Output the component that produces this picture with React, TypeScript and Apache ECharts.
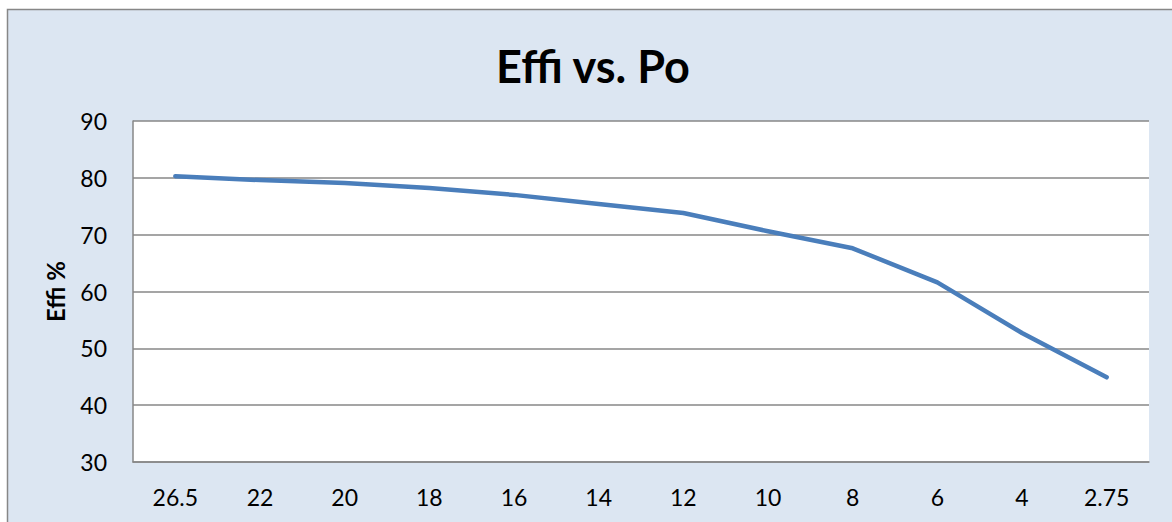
import React, { useEffect, useRef } from "react";
import * as echarts from "echarts";

const categories = ["26.5", "22", "20", "18", "16", "14", "12", "10", "8", "6", "4", "2.75"];
const effiValues = [80.3, 79.6, 79.1, 78.2, 77.0, 75.4, 73.8, 70.6, 67.6, 61.6, 52.7, 44.9];
const yTicks = { min: 30, max: 90, interval: 10 };

const FONT = "Lato";

export default function App() {
  const ref = useRef<HTMLDivElement>(null);
  useEffect(() => {
    if (!ref.current) return;
    const chart = echarts.init(ref.current, undefined, { renderer: "svg" });
    chart.setOption({
      animation: false,
      backgroundColor: "#ffffff",
      graphic: [
        {
          type: "rect",
          z: -10,
          silent: true,
          shape: { x: 7.5, y: 9.5, width: 1300, height: 700 },
          style: { fill: "#dce6f2", stroke: "#878787", lineWidth: 1.5 },
        },
      ],
      title: {
        text: "Effi vs. Po",
        left: 588,
        top: 61,
        textAlign: "center",
        textVerticalAlign: "middle",
        textStyle: { fontFamily: FONT, fontWeight: "bold", fontSize: 45, color: "#000" },
      },
      grid: { left: 133, top: 121, right: 23, bottom: 60, backgroundColor: "#ffffff", show: true, borderWidth: 0 },
      xAxis: {
        type: "category",
        data: categories,
        boundaryGap: true,
        axisLine: { show: true, lineStyle: { color: "#878787", width: 1.5 } },
        axisTick: { show: false },
        axisLabel: { margin: 23, fontFamily: FONT, fontSize: 23, color: "#000" },
        splitLine: { show: false },
      },
      yAxis: {
        type: "value",
        min: yTicks.min,
        max: yTicks.max,
        interval: yTicks.interval,
        name: "Effi %",
        nameLocation: "middle",
        nameGap: 66,
        nameTextStyle: { fontFamily: FONT, fontWeight: "bold", fontSize: 24, color: "#000" },
        axisLine: { show: true, lineStyle: { color: "#878787", width: 1.5 } },
        axisTick: { show: false },
        axisLabel: { margin: 26, fontFamily: FONT, fontSize: 23, color: "#000" },
        splitLine: { show: true, lineStyle: { color: "#878787", width: 1.5 } },
      },
      series: [
        {
          type: "line",
          data: effiValues,
          showSymbol: false,
          symbol: "none",
          lineStyle: { color: "#4a7ebb", width: 4.5, cap: "round", join: "round" },
          itemStyle: { color: "#4a7ebb" },
        },
      ],
    });
    return () => chart.dispose();
  }, []);
  return (
    <div
      ref={ref}
      style={{ position: "fixed", left: 0, top: 0, width: 1172, height: 522 }}
    />
  );
}
